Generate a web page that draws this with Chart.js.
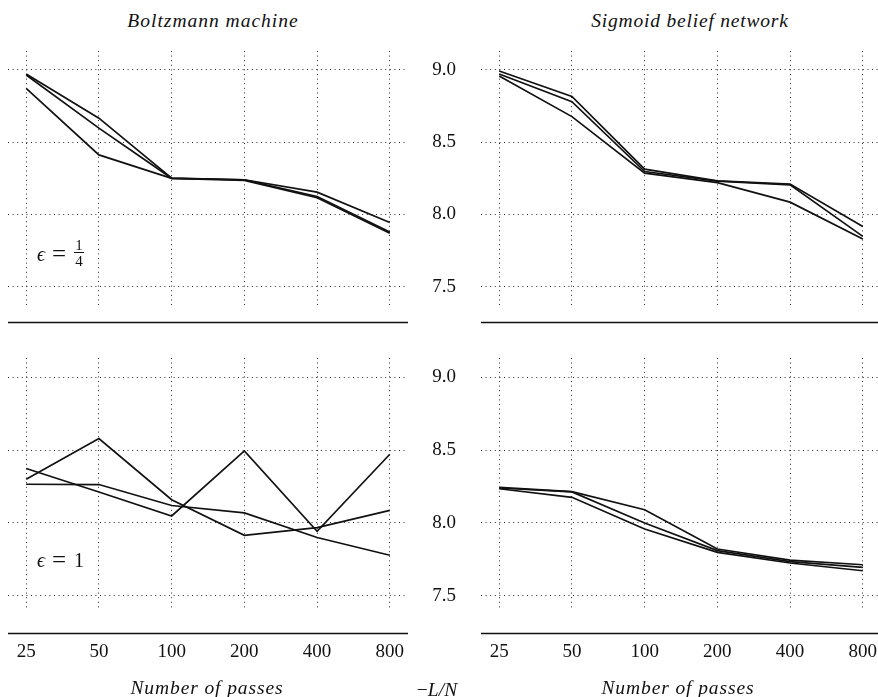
<!DOCTYPE html>
<html><head><meta charset="utf-8">
<script src="https://cdn.jsdelivr.net/npm/chart.js@4"></script>
<style>
html,body{margin:0;padding:0;background:#fff;}
body{width:878px;height:697px;overflow:hidden;position:relative;font-family:"Liberation Serif",serif;color:#111;}
canvas{position:absolute;display:block;}
.t{position:absolute;white-space:nowrap;line-height:1;}
.c{transform:translate(-50%,-50%);}
.v{transform:translateY(-50%);}
.it{font-style:italic;}
</style></head><body>
<canvas id="c1" width="400" height="274" style="left:8px;top:51px"></canvas>
<canvas id="c2" width="481" height="274" style="left:400px;top:51px"></canvas>
<canvas id="c3" width="400" height="330" style="left:8px;top:358px"></canvas>
<canvas id="c4" width="481" height="330" style="left:400px;top:358px"></canvas>

<div class="t c it" style="left:213px;top:21px;font-size:19.5px;letter-spacing:1px">Boltzmann machine</div>
<div class="t c it" style="left:690px;top:21px;font-size:19.5px;letter-spacing:0.8px">Sigmoid belief network</div>
<div class="t c it" style="left:207px;top:688px;font-size:19.5px;letter-spacing:0.9px">Number of passes</div>
<div class="t c it" style="left:678px;top:688px;font-size:19.5px;letter-spacing:0.9px">Number of passes</div>
<div class="t c" style="left:437px;top:690px;font-size:19.5px;"><span>−</span><span class="it">L</span><span class="it">/</span><span class="it">N</span></div>

<div class="t v it" style="left:37px;top:254px;font-size:20px">ϵ</div>
<div class="t v" style="left:52px;top:253px;font-size:25px">=</div>
<div class="t" style="left:74px;top:238px;font-size:15px;text-align:center;width:10px;line-height:1">1</div>
<div style="position:absolute;left:74px;top:252px;width:10px;height:1px;background:#111"></div>
<div class="t" style="left:74px;top:254px;font-size:15px;text-align:center;width:10px;line-height:1">4</div>

<div class="t v it" style="left:37px;top:560px;font-size:20px">ϵ</div>
<div class="t v" style="left:52px;top:559px;font-size:25px">=</div>
<div class="t v" style="left:74px;top:560px;font-size:20px">1</div>

<script>
// categories (number of passes)
const passes = ['25', '50', '100', '200', '400', '800'];
const yTickValues = [7.5, 8.0, 8.5, 9.0];

// Boltzmann machine, epsilon = 1/4
const bmQuarterA = [8.972, 8.666, 8.251, 8.240, 8.154, 7.944];
const bmQuarterB = [8.965, 8.597, 8.250, 8.240, 8.124, 7.878];
const bmQuarterC = [8.873, 8.412, 8.250, 8.235, 8.115, 7.870];

// Sigmoid belief network, epsilon = 1/4
const sbnQuarterA = [8.993, 8.816, 8.313, 8.232, 8.210, 7.917];
const sbnQuarterB = [8.972, 8.780, 8.297, 8.230, 8.205, 7.848];
const sbnQuarterC = [8.958, 8.677, 8.286, 8.220, 8.085, 7.829];

// Boltzmann machine, epsilon = 1
const bmOneA = [8.300, 8.580, 8.160, 7.915, 7.968, 8.087];
const bmOneB = [8.266, 8.264, 8.120, 8.069, 7.900, 7.778];
const bmOneC = [8.374, 8.213, 8.048, 8.495, 7.943, 8.472];

// Sigmoid belief network, epsilon = 1
const sbnOneA = [8.245, 8.215, 8.091, 7.821, 7.745, 7.713];
const sbnOneB = [8.240, 8.213, 8.000, 7.810, 7.735, 7.695];
const sbnOneC = [8.235, 8.176, 7.959, 7.798, 7.725, 7.672];

const axisLine = {
  id: 'axisLine',
  afterDraw(chart, args, opts) {
    const {ctx, chartArea} = chart;
    const y = Math.round(chartArea.bottom + opts.offset) + 0.5;
    ctx.save();
    ctx.strokeStyle = '#111';
    ctx.lineWidth = 1.7;
    ctx.beginPath();
    ctx.moveTo(chartArea.left, y);
    ctx.lineTo(chartArea.right, y);
    ctx.stroke();
    ctx.restore();
  }
};

function makeChart(id, series, o) {
  return new Chart(document.getElementById(id), {
    type: 'line',
    data: {
      datasets: series.map(s => ({
        data: s.map((v, i) => ({x: i, y: v})),
        borderColor: '#111', borderWidth: 1.7, pointRadius: 0, tension: 0, fill: false
      }))
    },
    plugins: [axisLine],
    options: {
      responsive: false, animation: false, devicePixelRatio: 1,
      layout: {padding: 0},
      plugins: {legend: {display: false}, tooltip: {enabled: false}, axisLine: {offset: o.lineOffset}},
      scales: {
        x: {
          type: 'linear', min: -0.25, max: 5.25,
          afterBuildTicks: s => { s.ticks = passes.map((p, i) => ({value: i})); },
          afterFit: s => { s.height = o.xh; s.paddingLeft = 0; s.paddingRight = 0; },
          grid: {color: '#2a2a2a', lineWidth: 1, drawTicks: false},
          border: {display: false, dash: [1, 3.6]},
          ticks: {display: o.xTicks, padding: 33, autoSkip: false, maxRotation: 0,
                  color: '#111', font: {family: 'Liberation Serif', size: 19},
                  callback: v => passes[v]}
        },
        y: {
          min: o.ymin, max: o.ymax,
          afterBuildTicks: s => { s.ticks = yTickValues.map(v => ({value: v})); },
          afterFit: s => { s.width = o.yw; s.paddingTop = 0; s.paddingBottom = 0; },
          grid: {color: '#2a2a2a', lineWidth: 1, drawTicks: false},
          border: {display: false, dash: [1, 3.6]},
          ticks: {display: o.yTicks, padding: 25, color: '#111',
                  font: {family: 'Liberation Serif', size: 19},
                  callback: v => v.toFixed(1)}
        }
      }
    }
  });
}

makeChart('c1', [bmQuarterA, bmQuarterB, bmQuarterC],
  {ymin: 7.373, ymax: 9.131, xh: 20, yw: 0, xTicks: false, yTicks: false, lineOffset: 17});
makeChart('c2', [sbnQuarterA, sbnQuarterB, sbnQuarterC],
  {ymin: 7.373, ymax: 9.131, xh: 20, yw: 81, xTicks: false, yTicks: true, lineOffset: 17});
makeChart('c3', [bmOneA, bmOneB, bmOneC],
  {ymin: 7.416, ymax: 9.133, xh: 80, yw: 0, xTicks: true, yTicks: false, lineOffset: 24.7});
makeChart('c4', [sbnOneA, sbnOneB, sbnOneC],
  {ymin: 7.416, ymax: 9.133, xh: 80, yw: 81, xTicks: true, yTicks: true, lineOffset: 24.7});
</script>
</body></html>
